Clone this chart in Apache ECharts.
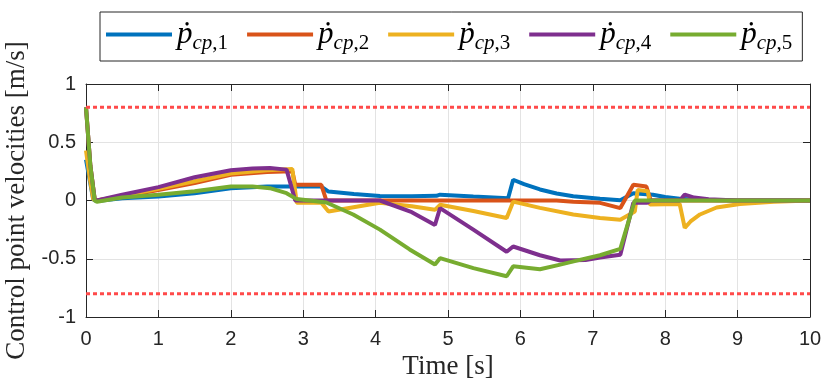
<!DOCTYPE html>
<html>
<head>
<meta charset="utf-8">
<script src="https://cdn.jsdelivr.net/npm/echarts@6/dist/echarts.min.js"></script>
<style>
html,body{margin:0;padding:0;background:#fff;}
#chart{width:830px;height:390px;}
</style>
</head>
<body>
<div id="chart"></div>
<script>
// ---- data (time [s], velocity [m/s]) ----
const seriesNames = ['p1', 'p2', 'p3', 'p4', 'p5'];
const subscriptIdx = ['1', '2', '3', '4', '5'];
const xTicks = [0, 1, 2, 3, 4, 5, 6, 7, 8, 9, 10];
const yTicks = [-1, -0.5, 0, 0.5, 1];
const limitUpper = 0.8;
const limitLower = -0.8;

const p1 = [[0,0.35],[0.05,0.18],[0.1,0.01],[0.15,-0.005],[0.5,0.02],[1,0.035],[1.5,0.063],[2,0.106],[2.5,0.12],[3.25,0.12],[3.35,0.077],[3.7,0.055],[4.06,0.038],[4.5,0.036],[4.84,0.04],[4.89,0.05],[5.35,0.035],[5.83,0.02],[5.9,0.178],[6.05,0.14],[6.27,0.095],[6.5,0.06],[6.73,0.037],[7.1,0.015],[7.38,0.003],[7.56,0.063],[7.83,0.05],[8.0,0.03],[8.2,0.015],[8.5,0.005],[9,0],[10,0]];
const p2 = [[0,0.8],[0.06,0.3],[0.12,0.01],[0.15,0],[0.5,0.035],[1,0.09],[1.5,0.15],[2,0.22],[2.5,0.245],[2.85,0.25],[2.89,0.135],[3.25,0.135],[3.32,0],[6.5,0],[6.73,-0.01],[7.1,-0.02],[7.38,-0.065],[7.56,0.135],[7.74,0.12],[7.8,0],[10,0]];
const p3 = [[0,0.43],[0.05,0.2],[0.1,0.01],[0.15,0],[0.5,0.04],[1,0.1],[1.5,0.165],[2,0.232],[2.5,0.26],[2.85,0.27],[2.91,-0.02],[3.25,-0.02],[3.35,-0.095],[4.06,-0.02],[4.5,-0.05],[4.82,-0.08],[4.89,-0.037],[5.35,-0.09],[5.81,-0.15],[5.9,-0.01],[6.27,-0.063],[6.73,-0.12],[7.1,-0.15],[7.38,-0.165],[7.58,-0.095],[7.62,0.09],[7.76,0.08],[7.79,-0.035],[8.2,-0.03],[8.27,-0.235],[8.35,-0.18],[8.48,-0.12],[8.71,-0.06],[9.03,-0.03],[9.5,-0.01],[10,0]];
const p4 = [[0,0.8],[0.06,0.3],[0.12,0.01],[0.15,0],[0.5,0.05],[1,0.115],[1.5,0.2],[2,0.26],[2.3,0.275],[2.54,0.278],[2.77,0.265],[2.89,0],[4.06,0],[4.5,-0.1],[4.82,-0.21],[4.89,-0.065],[5.35,-0.25],[5.81,-0.44],[5.9,-0.395],[6.27,-0.47],[6.55,-0.515],[6.9,-0.51],[7.1,-0.49],[7.38,-0.465],[7.56,-0.02],[7.75,-0.02],[7.8,0],[8.2,0],[8.27,0.05],[8.4,0.025],[8.6,0.01],[9,0],[10,0]];
const p5 = [[0,0.8],[0.06,0.3],[0.12,0],[0.15,-0.01],[0.5,0.025],[1,0.05],[1.5,0.08],[2,0.12],[2.3,0.12],[2.54,0.106],[2.77,0.063],[2.91,0.012],[3.0,0.006],[3.32,-0.017],[3.69,-0.12],[4.06,-0.25],[4.47,-0.42],[4.82,-0.55],[4.89,-0.495],[5.35,-0.58],[5.81,-0.65],[5.9,-0.565],[6.27,-0.59],[6.55,-0.55],[6.82,-0.51],[7.1,-0.47],[7.38,-0.415],[7.58,0],[10,0]];

const seriesData = [p1, p2, p3, p4, p5];
const colors = ['#0072BD', '#D95319', '#EDB120', '#7E2F8E', '#77AC30'];

const axisColor = '#262626';
const gridColor = '#e3e3e3';

const series = seriesNames.map((n, i) => ({
  name: n,
  type: 'line',
  data: seriesData[i],
  showSymbol: false,
  symbol: 'none',
  color: colors[i],
  lineStyle: { width: 4, color: colors[i] },
  z: 3 + i,
  animation: false
}));
// limit lines
[limitUpper, limitLower].forEach((v, k) => {
  series.push({
    name: 'limit' + k,
    type: 'line',
    data: [[xTicks[0], v], [xTicks[xTicks.length - 1], v]],
    showSymbol: false,
    symbol: 'none',
    lineStyle: { width: 3, color: '#ff4a4a', type: [4, 3] },
    z: 10,
    animation: false
  });
});

const chart = echarts.init(document.getElementById('chart'), null, { renderer: 'canvas' });
chart.setOption({
  animation: false,
  backgroundColor: '#ffffff',
  grid: { left: 86, right: 20, top: 84, bottom: 73, containLabel: false, outerBoundsMode: 'none' },
  legend: {
    data: seriesNames,
    left: 100,
    top: 12,
    icon: 'rect',
    itemWidth: 66,
    itemHeight: 4,
    itemGap: 19,
    padding: [7, 10, 7, 6],
    borderColor: axisColor,
    borderWidth: 1,
    backgroundColor: '#fff',
    formatter: function (name) {
      const i = seriesNames.indexOf(name);
      return '{p|ṗ}{s|cp}{n|,' + subscriptIdx[i] + '}';
    },
    textStyle: {
      color: '#000',
      rich: {
        p: { fontFamily: 'Liberation Serif', fontStyle: 'italic', fontSize: 31, lineHeight: 31, verticalAlign: 'top' },
        s: { fontFamily: 'Liberation Serif', fontStyle: 'italic', fontSize: 21, lineHeight: 21, padding: [14, 0, 0, 0], verticalAlign: 'top' },
        n: { fontFamily: 'Liberation Serif', fontSize: 21, lineHeight: 21, padding: [14, 0, 0, 0], verticalAlign: 'top' }
      }
    }
  },
  xAxis: [{
    type: 'value',
    min: xTicks[0], max: xTicks[xTicks.length - 1], interval: 1,
    name: 'Time [s]',
    nameLocation: 'middle',
    nameGap: 32,
    nameTextStyle: { fontFamily: 'Liberation Serif', fontSize: 27, color: axisColor },
    axisLine: { show: true, onZero: false, lineStyle: { color: axisColor, width: 1 } },
    axisTick: { show: true, inside: true, length: 7, lineStyle: { color: axisColor } },
    axisLabel: { fontFamily: 'Liberation Sans', fontSize: 20, color: axisColor, margin: 12 },
    splitLine: { show: true, lineStyle: { color: gridColor, width: 1 } }
  }, {
    type: 'value', position: 'top',
    min: xTicks[0], max: xTicks[xTicks.length - 1], interval: 1,
    axisLine: { show: true, onZero: false, lineStyle: { color: axisColor, width: 1 } },
    axisTick: { show: true, inside: true, length: 7, lineStyle: { color: axisColor } },
    axisLabel: { show: false },
    splitLine: { show: false }
  }],
  yAxis: [{
    type: 'value',
    min: yTicks[0], max: yTicks[yTicks.length - 1], interval: 0.5,
    name: 'Control point velocities [m/s]',
    nameLocation: 'middle',
    nameGap: 52,
    nameTextStyle: { fontFamily: 'Liberation Serif', fontSize: 27, color: axisColor },
    axisLine: { show: true, onZero: false, lineStyle: { color: axisColor, width: 1 } },
    axisTick: { show: true, inside: true, length: 7, lineStyle: { color: axisColor } },
    axisLabel: { fontFamily: 'Liberation Sans', fontSize: 20, color: axisColor, margin: 10 },
    splitLine: { show: true, lineStyle: { color: gridColor, width: 1 } }
  }, {
    type: 'value', position: 'right',
    min: yTicks[0], max: yTicks[yTicks.length - 1], interval: 0.5,
    axisLine: { show: true, onZero: false, lineStyle: { color: axisColor, width: 1 } },
    axisTick: { show: true, inside: true, length: 7, lineStyle: { color: axisColor } },
    axisLabel: { show: false },
    splitLine: { show: false }
  }],
  series: series
});
</script>
</body>
</html>
